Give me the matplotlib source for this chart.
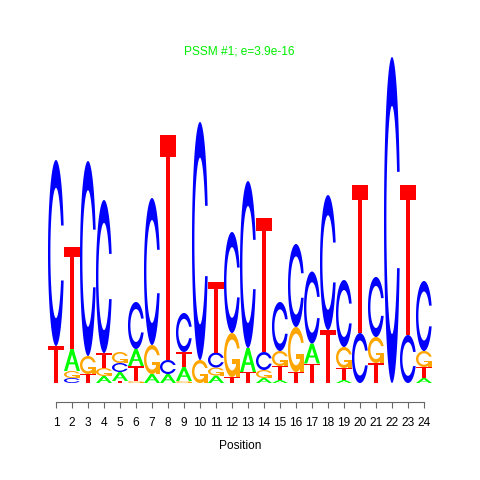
import numpy as np
import matplotlib
matplotlib.use("Agg")
import matplotlib.pyplot as plt
from matplotlib.patches import Polygon

plt.rcParams['font.family'] = ['Liberation Sans', 'DejaVu Sans']

title = "PSSM #1; e=3.9e-16"
xlabel = "Position"
positions = list(range(1, 25))
letters = ["A", "C", "G", "T"]
# letter heights per position (stack units)
A = [0, 0.22, 0, 0.07, 0.09, 0.17, 0.09, 0.09, 0.14, 0, 0.075, 0, 0.24, 0.05,
     0.03, 0, 0.20, 0, 0.03, 0, 0, 0, 0, 0.05]
C = [1.86, 0.05, 1.95, 1.53, 0.09, 0.47, 1.47, 0.14, 0.39, 2.38, 0.15, 1.01,
     1.67, 0.18, 0.49, 0.83, 0.72, 1.35, 0.67, 0.50, 0.60, 3.26, 0.48, 0.70]
G = [0, 0.07, 0.18, 0.08, 0.11, 0.02, 0.29, 0, 0.02, 0.23, 0.08, 0.44, 0,
     0.08, 0.15, 0.45, 0, 0, 0.21, 0, 0.26, 0, 0, 0.16]
T = [0.37, 1.02, 0.09, 0.15, 0.02, 0.15, 0, 2.25, 0.15, 0, 0.71, 0.06, 0.11,
     1.34, 0.14, 0.11, 0.195, 0.53, 0.12, 1.48, 0.20, 0, 1.50, 0.11]
heights = {"A": A, "C": C, "G": G, "T": T}
colors = {"A": "#00FF00", "C": "#0000FF", "G": "#FFA500", "T": "#FF0000"}


def ring():
    a1 = np.linspace(0.3 + np.pi / 2, np.pi, 100)
    a2 = np.linspace(np.pi, 1.5 * np.pi, 100)
    xl1, yl1 = 0.5 + 0.5 * np.sin(a1), 0.5 + 0.5 * np.cos(a1)
    xl2, yl2 = 0.5 + 0.5 * np.sin(a2), 0.5 + 0.5 * np.cos(a2)
    xl = np.concatenate([xl1, xl2]); yl = np.concatenate([yl1, yl2])
    x = np.concatenate([xl, xl[::-1]]); y = np.concatenate([yl, 1 - yl[::-1]])
    xi1, yi1 = 0.5 + 0.35 * np.sin(a1), 0.5 + 0.35 * np.cos(a1)
    m = yi1 <= yl1.max()
    xi1, yi1 = xi1[m], yi1[m].copy()
    yi1[0] = yl1.max()
    xi2, yi2 = 0.5 + 0.35 * np.sin(a2), 0.5 + 0.35 * np.cos(a2)
    xi = np.concatenate([xi1, xi2]); yi = np.concatenate([yi1, yi2])
    x1 = np.concatenate([xi, xi[::-1]]); y1 = np.concatenate([yi, 1 - yi[::-1]])
    x = np.concatenate([x, x1[::-1]]); y = np.concatenate([y, y1[::-1]])
    return x, y, xl1.max()


def shapes(letter):
    """Return list of (xs, ys, color) in unit box."""
    if letter == "A":
        xo = np.array([0, 4, 6, 10, 8, 6.8, 3.2, 2, 0]) * 0.1
        yo = np.array([0, 10, 10, 0, 0, 3, 3, 0, 0]) * 0.1
        xh = np.array([3.6, 5, 6.4, 3.6]) * 0.1
        yh = np.array([4, 7.5, 4, 4]) * 0.1
        return [(xo, yo, colors["A"]), (xh, yh, "white")]
    if letter == "T":
        x = np.array([0, 10, 10, 6, 6, 4, 4, 0]) * 0.1
        y = np.array([10, 10, 9, 9, 0, 0, 9, 9]) * 0.1
        return [(x, y, colors["T"])]
    if letter == "C":
        x, y, _ = ring()
        return [(x, y, colors["C"])]
    if letter == "G":
        x, y, r1 = ring()
        h1 = 0.4
        xa = np.array([r1, 0.5, 0.5, r1 - 0.2, r1 - 0.2, r1, r1])
        ya = np.array([h1, h1, h1 - 0.1, h1 - 0.1, 0, 0, h1])
        return [(x, y, colors["G"]), (xa, ya, colors["G"])]


fig = plt.figure(figsize=(4.8, 4.8), dpi=100)
ax = fig.add_axes([48 / 480, 97 / 480, 384 / 480, 326 / 480])
ax.set_xlim(0.5, 24.5)
ax.set_ylim(0, 3.26)

for i, pos in enumerate(positions):
    col = sorted(letters, key=lambda L: heights[L][i])
    y0 = 0.0
    for L in col:
        h = heights[L][i]
        if h <= 0:
            continue
        for xs, ys, c in shapes(L):
            poly = Polygon(np.column_stack([pos - 0.5 + xs, y0 + h * ys]),
                           closed=True, facecolor=c, edgecolor="none",
                           linewidth=0, clip_on=False)
            ax.add_patch(poly)
        y0 += h

for s in ["top", "right", "left"]:
    ax.spines[s].set_visible(False)
ax.spines["bottom"].set_position(("outward", 13.7))
ax.spines["bottom"].set_bounds(1, 24)
ax.spines["bottom"].set_color("#666666")
ax.spines["bottom"].set_linewidth(0.8)
ax.set_yticks([])
ax.set_xticks(positions)
ax.set_xticklabels([str(p) for p in positions], fontsize=8.6)
ax.tick_params(axis="x", length=4.5, width=0.8, color="#666666", pad=6,
               labelcolor="black")

fig.text(239 / 480, 1 - 52 / 480, title, color="#00EE00", fontsize=8.6,
         ha="center", va="center")
fig.text(240 / 480, 1 - 446 / 480, xlabel, color="black", fontsize=8.6,
         ha="center", va="center")

fig.savefig("out.png", dpi=100)
